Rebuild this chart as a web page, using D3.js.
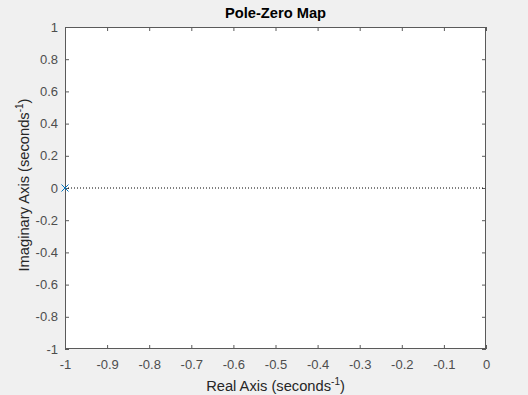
<!DOCTYPE html>
<html><head><meta charset="utf-8">
<script src="https://cdn.jsdelivr.net/npm/d3@7"></script>
<style>
html,body{margin:0;padding:0;background:#f0f0f0;}
svg{display:block;font-family:"Liberation Sans",Arial,Helvetica,sans-serif;}
</style></head>
<body>
<svg id="chart" width="528" height="395"></svg>
<script>
const xTicks = [-1,-0.9,-0.8,-0.7,-0.6,-0.5,-0.4,-0.3,-0.2,-0.1,0];
const yTicks = [-1,-0.8,-0.6,-0.4,-0.2,0,0.2,0.4,0.6,0.8,1];
const poleRe = [-1];
const poleIm = [0];
const xDomain = [-1, 0];
const yDomain = [-1, 1];

const svg = d3.select("#chart");
const L = 65, R = 486, T = 27, B = 349;
const x = d3.scaleLinear().domain(xDomain).range([L, R]);
const y = d3.scaleLinear().domain(yDomain).range([B, T]);

svg.append("rect").attr("x", L).attr("y", T).attr("width", R - L).attr("height", B - T).attr("fill", "#fff");

const fmt = d => String(+d.toFixed(1)).replace("\u2212", "-");
const tickCol = "#5a5a5a";
const labCol = "#4d4d4d";

function styleAxis(g){
  g.select(".domain").remove();
  g.selectAll(".tick line").attr("stroke", tickCol);
  g.selectAll(".tick text").attr("fill", labCol).attr("font-size", 13);
}
svg.append("g").attr("transform", `translate(0,${B})`)
  .call(d3.axisBottom(x).tickValues(xTicks).tickFormat(fmt).tickSizeInner(-4).tickPadding(11))
  .call(styleAxis);
svg.append("g").attr("transform", `translate(0,${T})`)
  .call(d3.axisTop(x).tickValues(xTicks).tickFormat("").tickSizeInner(-4))
  .call(styleAxis);
svg.append("g").attr("transform", `translate(${L},0)`)
  .call(d3.axisLeft(y).tickValues(yTicks).tickFormat(fmt).tickSizeInner(-4).tickPadding(7))
  .call(styleAxis);
svg.append("g").attr("transform", `translate(${R},0)`)
  .call(d3.axisRight(y).tickValues(yTicks).tickFormat("").tickSizeInner(-4))
  .call(styleAxis);

// dotted zero line
svg.append("line").attr("x1", x(xDomain[0])).attr("x2", x(xDomain[1]))
  .attr("y1", y(0)).attr("y2", y(0))
  .attr("stroke", "#000").attr("stroke-width", 1).attr("stroke-dasharray", "1,2");

// box
svg.append("rect").attr("x", L + 0.5).attr("y", T + 0.5).attr("width", R - L - 1).attr("height", B - T - 1)
  .attr("fill", "none").attr("stroke", tickCol).attr("stroke-width", 1);

// poles
const s = 3.5;
poleRe.forEach((re, i) => {
  const cx = x(re), cy = y(poleIm[i]);
  svg.append("path").attr("d", `M${cx-s},${cy-s}L${cx+s},${cy+s}M${cx-s},${cy+s}L${cx+s},${cy-s}`)
    .attr("stroke", "#0072bd").attr("stroke-width", 1).attr("fill", "none");
});

// title
svg.append("text").attr("x", (L + R) / 2).attr("y", 18).attr("text-anchor", "middle")
  .attr("font-size", 14.7).attr("font-weight", "bold").attr("fill", "#000").text("Pole-Zero Map");

// x label
const xl = svg.append("text").attr("x", (L + R) / 2).attr("y", 391).attr("text-anchor", "middle")
  .attr("font-size", 14.7).attr("fill", "#262626");
xl.append("tspan").text("Real Axis (seconds");
xl.append("tspan").attr("dy", -6).attr("font-size", 10).text("-1");
xl.append("tspan").attr("dy", 6).text(")");

// y label
const yl = svg.append("text").attr("transform", `translate(29,185) rotate(-90)`)
  .attr("text-anchor", "middle").attr("font-size", 14.7).attr("fill", "#262626");
yl.append("tspan").text("Imaginary Axis (seconds");
yl.append("tspan").attr("dy", -6).attr("font-size", 10).text("-1");
yl.append("tspan").attr("dy", 6).text(")");
</script>
</body></html>
